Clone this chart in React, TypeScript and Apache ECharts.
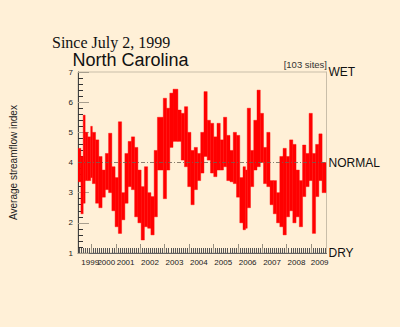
import React, { useEffect, useRef } from 'react';
import * as echarts from 'echarts';

// Segment start dates (decimal years) of the streamflow record
const segmentStarts = [
  1999.45, 1999.57, 1999.663, 1999.743, 1999.85, 1999.97, 2000.037, 2000.17, 2000.303, 2000.437,
  2000.57, 2000.703, 2000.837, 2000.97, 2001.103, 2001.237, 2001.37, 2001.503, 2001.637, 2001.77,
  2001.903, 2002.037, 2002.17, 2002.303, 2002.437, 2002.57, 2002.703, 2002.943, 2003.077, 2003.21,
  2003.343, 2003.543, 2003.677, 2003.81, 2003.943, 2004.077, 2004.21, 2004.343, 2004.477, 2004.61,
  2004.743, 2004.877, 2005.01, 2005.143, 2005.277, 2005.41, 2005.543, 2005.677, 2005.81, 2005.943,
  2006.077, 2006.21, 2006.31, 2006.383, 2006.517, 2006.65, 2006.783, 2006.917, 2007.05, 2007.183,
  2007.317, 2007.45, 2007.583, 2007.717, 2007.85, 2007.983, 2008.117, 2008.25, 2008.383, 2008.517,
  2008.65, 2008.783, 2008.917, 2009.05, 2009.183, 2009.317, 2009.45,
];
const recordEnd = 2009.61;

// Highest index value within each segment
const highs = [
  4.47, 4.2, 5.57, 5.0, 4.85, 5.2, 5.0, 4.75, 4.2, 3.75,
  4.3, 4.97, 3.86, 3.5, 5.35, 3.0, 4.3, 4.7, 4.85, 4.5,
  3.75, 3.2, 3.86, 3.0, 2.87, 4.4, 5.5, 6.13, 5.8, 6.3,
  6.43, 5.74, 5.63, 5.85, 5.0, 4.4, 4.5, 4.3, 5.0, 6.35,
  5.4, 5.3, 4.85, 5.3, 4.75, 5.5, 4.9, 4.4, 5.0, 4.9,
  3.5, 3.86, 3.75, 5.8, 4.4, 5.4, 6.4, 5.63, 4.5, 5.0,
  3.4, 3.4, 3.0, 4.2, 4.47, 4.2, 4.75, 4.6, 3.75, 3.4,
  4.58, 4.3, 5.63, 4.3, 4.6, 4.95, 4.0,
];

// Lowest index value within each segment
const lows = [
  3.36, 2.3, 2.65, 3.4, 3.4, 3.5, 3.3, 2.65, 2.5, 2.85,
  3.1, 3.0, 2.4, 1.87, 1.65, 2.1, 2.65, 3.2, 3.1, 2.2,
  2.0, 1.43, 1.87, 1.82, 1.6, 2.2, 3.75, 2.8, 3.75, 4.5,
  4.7, 4.7, 4.08, 3.86, 3.2, 2.6, 3.1, 3.4, 3.65, 4.2,
  4.08, 3.65, 3.53, 3.75, 3.75, 3.86, 3.4, 3.36, 3.3, 2.85,
  2.0, 1.77, 1.82, 2.5, 3.2, 3.75, 3.86, 4.0, 3.3, 3.2,
  2.6, 2.3, 2.0, 1.87, 1.6, 2.2, 2.4, 2.0, 2.2, 1.87,
  2.87, 3.2, 3.4, 1.65, 2.87, 3.4, 3.0,
];

const yearTicks = [2000, 2001, 2002, 2003, 2004, 2005, 2006, 2007, 2008, 2009];
const firstYearLabel = '1999';
const firstYearLabelAt = 1999.95;
const yearLabels = ['2000', '2001', '2002', '2003', '2004', '2005', '2006', '2007', '2008', '2009'];
const yearLabelAt = [2000.61, 2001.4, 2002.4, 2003.4, 2004.4, 2005.4, 2006.4, 2007.4, 2008.4, 2009.35];
const levelValues = [1, 4, 7];
const levelLabels = ['DRY', 'NORMAL', 'WET'];
const normalValue = 4;
const xMin = 1999.45;
const xMax = 2009.63;

const BG = '#FFF0D7';
const TAN = '#c9bea9';

export default function App() {
  const ref = useRef<HTMLDivElement>(null);
  useEffect(() => {
    if (!ref.current) return;
    const chart = echarts.init(ref.current, null, { renderer: 'svg' });

    const data = segmentStarts.map((s, i) => [
      s,
      i + 1 < segmentStarts.length ? segmentStarts[i + 1] : recordEnd,
      lows[i],
      highs[i],
    ]);

    const monthTicks: number[] = [];
    for (let y = 1999; y <= 2009; y++) {
      for (let m = 1; m < 12; m++) {
        const v = y + m / 12;
        if (v > xMin && v < xMax) monthTicks.push(v);
      }
    }

    const labelFor = (v: number) => {
      let best = 0;
      let bd = Infinity;
      yearLabelAt.forEach((p, i) => {
        const d = Math.abs(p - v);
        if (d < bd) { bd = d; best = i; }
      });
      return yearLabels[best];
    };
    const levelFor = (v: number) => {
      const i = levelValues.indexOf(Math.round(v));
      return i >= 0 ? levelLabels[i] : '';
    };

    const font = 'Liberation Sans, Arial, sans-serif';
    const labelStyle = { fontSize: 8, fontFamily: font, color: '#222', margin: 5 };

    chart.setOption({
      animation: false,
      backgroundColor: BG,
      grid: {
        left: 72,
        top: 72,
        right: 73.5,
        bottom: 74,
        show: true,
        borderColor: TAN,
        borderWidth: 1,
        backgroundColor: 'transparent',
      },
      graphic: [
        {
          type: 'text',
          x: 52,
          y: 34.5,
          style: {
            text: 'Since July 2, 1999',
            font: '16px "Liberation Serif", "Times New Roman", serif',
            fill: '#111',
          },
        },
        {
          type: 'text',
          x: 72.5,
          y: 51,
          style: {
            text: 'North Carolina',
            font: '18px "Liberation Sans", Arial, sans-serif',
            fill: '#111',
          },
        },
        {
          type: 'text',
          x: 327,
          y: 59.5,
          style: {
            text: '[103 sites]',
            font: '9.5px "Liberation Sans", Arial, sans-serif',
            fill: '#333',
            textAlign: 'right',
          },
        },
      ],
      xAxis: [
        {
          type: 'value',
          min: xMin,
          max: xMax,
          position: 'bottom',
          axisLine: { show: true, lineStyle: { color: '#666', width: 1 } },
          axisTick: {
            show: true,
            inside: true,
            length: 9,
            customValues: yearTicks,
            lineStyle: { color: '#9a9282', width: 1 },
          },
          axisLabel: {
            show: true,
            customValues: yearLabelAt,
            formatter: (v: number) => labelFor(v),
            hideOverlap: false,
            ...labelStyle,
          },
          splitLine: { show: false },
        },
        {
          type: 'value',
          min: xMin,
          max: xMax,
          position: 'bottom',
          axisLine: { show: false },
          axisTick: {
            show: true,
            inside: true,
            length: 5,
            customValues: monthTicks,
            lineStyle: { color: '#555', width: 1 },
          },
          axisLabel: { show: false },
          splitLine: { show: false },
        },
        {
          type: 'value',
          min: xMin,
          max: xMax,
          position: 'bottom',
          axisLine: { show: false },
          axisTick: { show: false },
          axisLabel: {
            show: true,
            customValues: [firstYearLabelAt],
            formatter: () => firstYearLabel,
            ...labelStyle,
          },
          splitLine: { show: false },
        },
      ],
      yAxis: [
        {
          type: 'value',
          min: 1,
          max: 7,
          interval: 1,
          position: 'left',
          name: 'Average streamflow index',
          nameLocation: 'middle',
          nameRotate: 90,
          nameGap: 60,
          nameTextStyle: { fontSize: 10, fontFamily: font, color: '#222' },
          axisLine: { show: true, lineStyle: { color: '#444', width: 1 } },
          axisTick: { show: true, inside: true, length: 11, lineStyle: { color: '#a89f8e', width: 1 } },
          minorTick: { show: true, splitNumber: 5, length: 5, lineStyle: { color: '#333', width: 1 } },
          axisLabel: { fontSize: 8, fontFamily: font, color: '#222', margin: 5 },
          splitLine: { show: false },
          minorSplitLine: { show: false },
        },
        {
          type: 'value',
          min: 1,
          max: 7,
          position: 'right',
          axisLine: { show: true, lineStyle: { color: TAN, width: 1 } },
          axisTick: { show: false },
          axisLabel: {
            show: true,
            customValues: levelValues,
            formatter: (v: number) => levelFor(v),
            fontSize: 12,
            fontFamily: font,
            color: '#111',
            margin: 2,
          },
          splitLine: { show: false },
        },
      ],
      series: [
        {
          type: 'custom',
          xAxisIndex: 0,
          yAxisIndex: 0,
          clip: true,
          encode: { x: [0, 1], y: [2, 3] },
          data,
          renderItem: (params: any, api: any) => {
            const p0 = api.coord([api.value(0), api.value(3)]);
            const p1 = api.coord([api.value(1), api.value(2)]);
            return {
              type: 'rect',
              shape: { x: p0[0], y: p0[1], width: p1[0] - p0[0], height: p1[1] - p0[1] },
              style: { fill: '#ff0000', stroke: '#ff0000', lineWidth: 0.4 },
            };
          },
          z: 2,
        },
        {
          type: 'line',
          xAxisIndex: 0,
          yAxisIndex: 0,
          data: [[xMin, normalValue], [xMax, normalValue]],
          symbol: 'none',
          lineStyle: { color: '#6e6254', width: 0.8, type: [4, 2, 1, 2] },
          z: 5,
          silent: true,
        },
      ],
    });
    return () => chart.dispose();
  }, []);
  return <div ref={ref} style={{ position: 'fixed', left: 0, top: 0, width: 400, height: 327 }} />;
}
